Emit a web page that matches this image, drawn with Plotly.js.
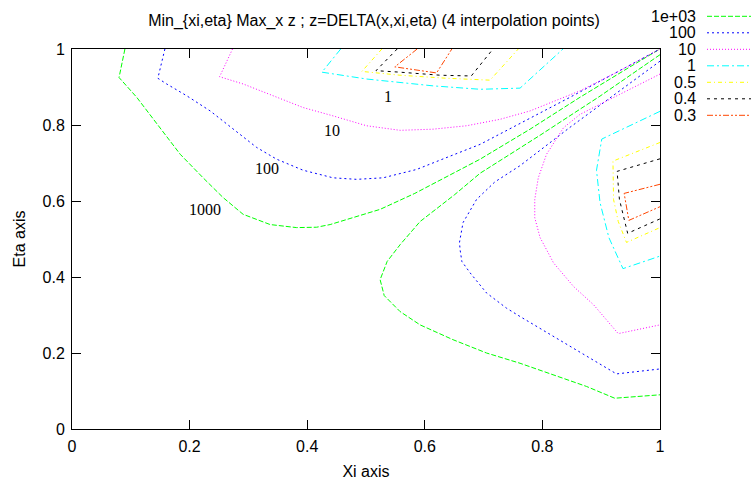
<!DOCTYPE html>
<html><head><meta charset="utf-8">
<script src="https://cdn.plot.ly/plotly-3.0.1.min.js"></script>
<style>html,body{margin:0;padding:0;background:#fff}#chart{width:754px;height:482px}</style>
</head><body><div id="chart"></div>
<script>
// contour levels (legend order)
const levelNames  = ['1e+03','100','10','1','0.5','0.4','0.3'];
const levelColors = ['#00ff00','#0000ff','#ff00ff','#00ffff','#ffff00','#000000','#ff4500'];
const levelDashes = ['5px,2px','2px,3px','1px,2px','7px,3px,2px,3px','4px,3px,1px,3px','3px,4px','6px,2px,2px,2px,2px,2px'];

// level 1000 (two branches, separated by null)
const x1000 = [0.090,0.080,0.110,0.150,0.184,0.223,0.257,0.291,0.337,0.382,0.416,0.439,0.524,0.583,0.694,0.779,0.864,0.949,1.0, null,
               1.0,0.898,0.796,0.728,0.694,0.651,0.592,0.558,0.536,0.524,0.531,0.558,0.592,0.648,0.705,0.762,0.819,0.875,0.923,1.0];
const y1000 = [1.0,0.925,0.873,0.793,0.723,0.661,0.609,0.565,0.538,0.530,0.531,0.538,0.578,0.620,0.710,0.789,0.873,0.953,1.0, null,
               0.985,0.876,0.773,0.707,0.673,0.617,0.546,0.485,0.441,0.393,0.351,0.309,0.274,0.235,0.200,0.173,0.142,0.112,0.081,0.090];
// level 100
const x100 = [0.158,0.146,0.161,0.195,0.235,0.274,0.314,0.348,0.393,0.444,0.484,0.529,0.586,0.643,0.694,0.847,1.0, null,
              1.0,0.847,0.762,0.719,0.688,0.665,0.659,0.660,0.663,0.677,0.705,0.739,0.762,0.819,0.875,0.926,1.0];
const y100 = [1.0,0.923,0.908,0.877,0.837,0.789,0.741,0.710,0.681,0.661,0.657,0.661,0.683,0.718,0.749,0.873,1.0, null,
              0.968,0.794,0.693,0.650,0.604,0.543,0.491,0.472,0.441,0.411,0.358,0.318,0.296,0.244,0.191,0.145,0.158];
// level 10
const x10 = [0.273,0.251,0.291,0.348,0.393,0.444,0.501,0.558,0.614,0.671,0.728,0.779,0.864,0.932,1.0, null,
             1.0,0.932,0.864,0.836,0.807,0.793,0.787,0.787,0.796,0.819,0.853,0.887,0.929,1.0];
const y10 = [1.0,0.927,0.908,0.873,0.846,0.824,0.798,0.786,0.789,0.798,0.815,0.837,0.890,0.943,1.0, null,
             0.934,0.880,0.828,0.793,0.723,0.661,0.604,0.556,0.504,0.437,0.375,0.327,0.251,0.274];
// level 1
const x1 = [0.457,0.425,0.501,0.614,0.694,0.762,0.835, null, 1.0,0.901,0.892,0.898,0.913,0.937,1.0];
const y1 = [1.0,0.939,0.921,0.903,0.894,0.897,1.0, null, 0.836,0.763,0.681,0.596,0.504,0.422,0.455];
// level 0.5
const x05 = [0.527,0.493,0.558,0.637,0.711,0.759, null, 1.0,0.920,0.921,0.929,0.943,1.0];
const y05 = [1.0,0.941,0.931,0.923,0.918,1.0, null, 0.754,0.705,0.604,0.546,0.491,0.530];
// level 0.4
const x04 = [0.553,0.517,0.558,0.626,0.679,0.716, null, 1.0,0.927,0.931,0.938,0.945,1.0];
const y04 = [1.0,0.943,0.939,0.931,0.929,1.0, null, 0.711,0.678,0.604,0.557,0.515,0.553];
// level 0.3
const x03 = [0.587,0.549,0.620,0.646, null, 1.0,0.939,0.947,1.0];
const y03 = [1.0,0.953,0.937,1.0, null, 0.644,0.620,0.549,0.585];

// in-plot contour labels
const labelText = ['1000','100','10','1'];
const labelX = [0.226,0.332,0.442,0.537];
const labelY = [0.578,0.686,0.786,0.875];

// ticks
const tickVals = [0,0.2,0.4,0.6,0.8,1];
const tickText = ['0','0.2','0.4','0.6','0.8','1'];

const xs = [x1000,x100,x10,x1,x05,x04,x03];
const ys = [y1000,y100,y10,y1,y05,y04,y03];

const font = 'Liberation Sans, Arial, Helvetica, sans-serif';
const traces = levelNames.map((n,i)=>({
  type:'scatter', mode:'lines', name:n, x:xs[i], y:ys[i],
  line:{color:levelColors[i], width:1, dash:levelDashes[i]},
  connectgaps:false, showlegend:false, hoverinfo:'skip'
}));

const annotations = labelText.map((t,i)=>({
  x:labelX[i], y:labelY[i], xref:'x', yref:'y', text:t, showarrow:false,
  font:{family:'Liberation Serif, Times New Roman, serif', size:16, color:'#000'}
}));
const shapes = [];
const W = 588, H = 380;
levelNames.forEach((n,i)=>{
  const rowPx = 16.3 + 16.5*i;           // pixel row from top of figure
  const yp = (429 - rowPx)/H;
  annotations.push({x:(698-72)/W, y:yp, xref:'paper', yref:'paper', xanchor:'right', yanchor:'middle',
    text:n, showarrow:false, font:{family:font, size:16, color:'#000'}});
  shapes.push({type:'line', xref:'paper', yref:'paper', x0:(707-72)/W, x1:(751-72)/W, y0:yp, y1:yp,
    line:{color:levelColors[i], width:1, dash:levelDashes[i]}});
});

const axisCommon = {
  range:[0,1], tickvals:tickVals, ticktext:tickText, ticks:'inside', ticklen:9, tickcolor:'#000',
  showline:true, linecolor:'#000', linewidth:1, mirror:'ticks', showgrid:false, zeroline:false,
  tickfont:{family:font, size:16, color:'#000'}, ticklabelstandoff:3
};

const layout = {
  width:754, height:482,
  margin:{l:72, r:94, t:49, b:53},
  paper_bgcolor:'#fff', plot_bgcolor:'#fff',
  title:{text:'Min_{xi,eta} Max_x z ; z=DELTA(x,xi,eta) (4 interpolation points)',
         font:{family:font, size:16, color:'#000'}, x:374/754, xanchor:'center', xref:'container',
         y:1-20/482, yanchor:'middle', yref:'container'},
  xaxis:Object.assign({}, axisCommon, {title:{text:'Xi axis', font:{family:font, size:16, color:'#000'}, standoff:11}}),
  yaxis:Object.assign({}, axisCommon, {title:{text:'Eta axis', font:{family:font, size:16, color:'#000'}, standoff:12}}),
  showlegend:false,
  annotations:annotations, shapes:shapes
};

Plotly.newPlot('chart', traces, layout, {displayModeBar:false, staticPlot:true});
</script>
</body></html>
